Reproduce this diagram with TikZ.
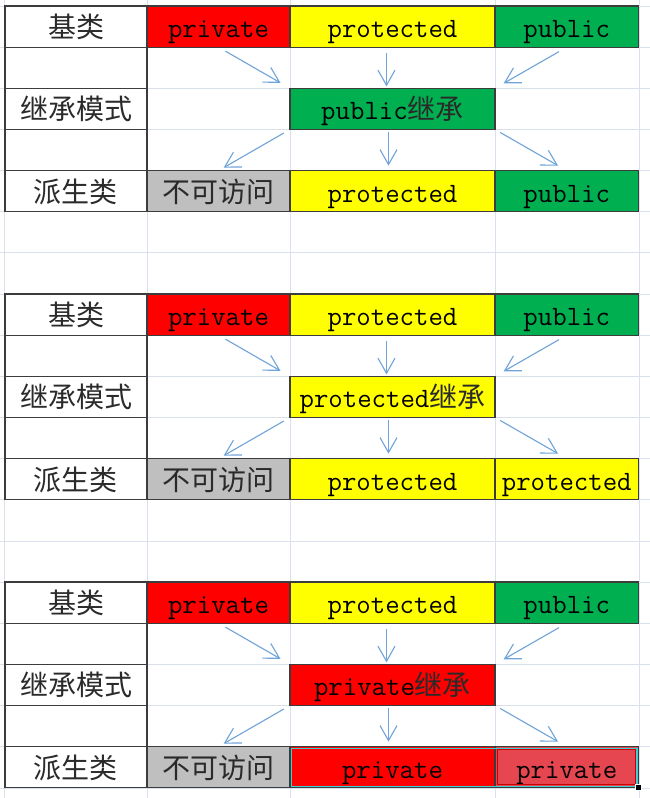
\documentclass[tikz,border=0pt]{standalone}
\usepackage{fontspec}
\newfontfamily\cnfont{Noto Sans CJK SC}
\usetikzlibrary{arrows.meta, positioning}

\definecolor{gridblue}{HTML}{DAE0EC}
\definecolor{cellline}{HTML}{3C3C3C}
\definecolor{xlred}{HTML}{FF0000}
\definecolor{xlyellow}{HTML}{FFFF00}
\definecolor{xlgreen}{HTML}{00B050}
\definecolor{xlgrey}{HTML}{BFBFBF}
\definecolor{selred}{HTML}{E5464F}
\definecolor{selcyan}{HTML}{3FD0D4}
\definecolor{arrowblue}{HTML}{6FA3DA}
\definecolor{cntext}{HTML}{2A2A2A}

\newcommand{\cn}[1]{{\cnfont\fontsize{28}{30}\selectfont\color{cntext}#1}}

\begin{document}
\begin{tikzpicture}[x=1pt, y=-1pt,
	cell/.style={draw=cellline, line width=1.2pt, inner sep=0pt, outer sep=0pt,
		minimum height=41.16pt, text height=25pt, text depth=3pt,
		font=\ttfamily\fontsize{28}{30}\selectfont},
	colA/.style={cell, minimum width=142pt},
	colB/.style={cell, minimum width=143pt},
	colC/.style={cell, minimum width=205pt},
	colD/.style={cell, minimum width=143.5pt},
	arr/.style={-{Straight Barb[length=15pt, width=17pt]}, draw=arrowblue, line width=1.1pt}
]
	\useasboundingbox (0,0) rectangle (650,798);
	\fill[white] (0,0) rectangle (650,798);

	% sheet gridlines
	\foreach \gx in {4.5, 147, 290, 495, 639}
		\draw[gridblue, line width=1pt] (\gx,0) -- (\gx,798);
	\foreach \k in {0,...,19}
		\draw[gridblue, line width=1pt] (0,6+41.16*\k) -- (650,6+41.16*\k);

	% three inheritance tables
	\foreach \b/\modetxt/\modecol/\dercol/\dertxt/\dcol/\dtxt in {
		0/public/xlgreen/xlyellow/protected/xlgreen/public,
		1/protected/xlyellow/xlyellow/protected/xlyellow/protected,
		2/private/xlred/xlred/private/selred/private}
	{
		\begin{scope}[shift={(0,288*\b)}]
			\node[colA] (baseLab\b) at (76,26.58) {\cn{基类}};
			\node[colA, below=0pt of baseLab\b] (gapOne\b) {};
			\node[colA, below=0pt of gapOne\b] (modeLab\b) {\cn{继承模式}};
			\node[colA, below=0pt of modeLab\b] (gapTwo\b) {};
			\node[colA, below=0pt of gapTwo\b] (derLab\b) {\cn{派生类}};

			\node[colB, fill=xlred, right=0pt of baseLab\b] (basePriv\b) {private};
			\node[colC, fill=xlyellow, right=0pt of basePriv\b] (baseProt\b) {protected};
			\node[colD, fill=xlgreen, right=0pt of baseProt\b] (basePub\b) {public};

			\node[colC, fill=\modecol] (mode\b) at (baseProt\b |- modeLab\b) {\modetxt\cn{继承}};

			\node[colB, fill=xlgrey, right=0pt of derLab\b] (derPriv\b) {\cn{不可访问}};
			\node[colC, fill=\dercol, right=0pt of derPriv\b] (derProt\b) {\dertxt};
			\node[colD, fill=\dcol, right=0pt of derProt\b] (derPub\b) {\dtxt};

			\draw[arr, shorten <=8pt, shorten >=11pt] (basePriv\b.south) -- (mode\b.north west);
			\draw[arr, shorten <=6pt, shorten >=2pt] ([xshift=-6pt]baseProt\b.south) -- ([xshift=-6pt]mode\b.north);
			\draw[arr, shorten <=9pt, shorten >=10pt] (basePub\b.south) -- (mode\b.north east);
			\draw[arr, shorten <=7pt, shorten >=6pt] (mode\b.south west) -- (derPriv\b.north);
			\draw[arr, shorten <=3pt, shorten >=5pt] ([xshift=-4pt]mode\b.south) -- ([xshift=-4pt]derProt\b.north);
			\draw[arr, shorten <=6pt, shorten >=10pt] (mode\b.south east) -- (derPub\b.north);
		\end{scope}
	}

	% selected range in the last table
	\draw[selcyan, line width=1.2pt] ([xshift=1.5pt,yshift=-1.5pt]derProt2.north west) rectangle ([xshift=-1.5pt,yshift=1.5pt]derPub2.south east);
	\draw[xlred!80!black, line width=0.9pt] ([xshift=2.5pt,yshift=-3pt]derPub2.north west) rectangle ([xshift=-3pt,yshift=3pt]derPub2.south east);
	\fill[black, draw=white, line width=0.8pt] ([xshift=-3pt,yshift=-3pt]derPub2.south east) rectangle ([xshift=3pt,yshift=3pt]derPub2.south east);
\end{tikzpicture}
\end{document}
